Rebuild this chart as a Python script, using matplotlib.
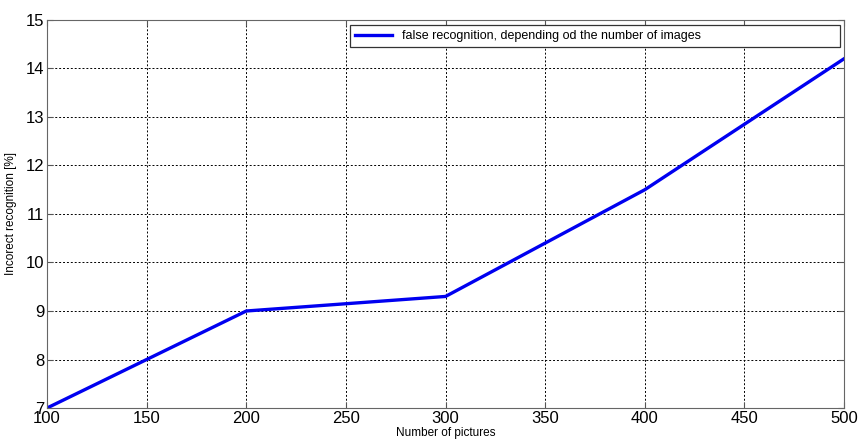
import matplotlib.pyplot as plt

plt.rcParams['font.family'] = ['Liberation Sans', 'DejaVu Sans']

# data
pictures = [100, 200, 300, 400, 500]
incorrect = [7.0, 9.0, 9.3, 11.5, 14.2]
x_ticks = [100, 150, 200, 250, 300, 350, 400, 450, 500]
y_ticks = [7, 8, 9, 10, 11, 12, 13, 14, 15]

fig = plt.figure(figsize=(8.6, 4.42), dpi=100)
ax = fig.add_axes([0.0547, 0.0769, 0.9267, 0.8779])

ax.plot(pictures, incorrect, color='#0000f0', linewidth=2.4,
        label='false recognition, depending od the number of images')

ax.set_xlim(100, 500)
ax.set_ylim(7, 15)
ax.set_xticks(x_ticks)
ax.set_yticks(y_ticks)
ax.tick_params(direction='in', length=4, labelsize=12, pad=2, colors='#555555',
               labelcolor='black', top=True, right=True)
ax.grid(True, color='black', linestyle=(0, (2, 2)), linewidth=0.7)
for s in ax.spines.values():
    s.set_color('#666666')

ax.set_xlabel('Number of pictures', fontsize=8.5, labelpad=1)
ax.set_ylabel('Incorect recognition [%]', fontsize=8.5, labelpad=6)

leg = ax.legend(loc='upper left', bbox_to_anchor=(0.380, 0.9175, 0.615, 0.0696),
                mode='expand', fontsize=9, fancybox=False, framealpha=1,
                edgecolor='#333333', handlelength=3, borderaxespad=0)
leg.get_frame().set_linewidth(0.9)

fig.savefig('out.png', dpi=100)
